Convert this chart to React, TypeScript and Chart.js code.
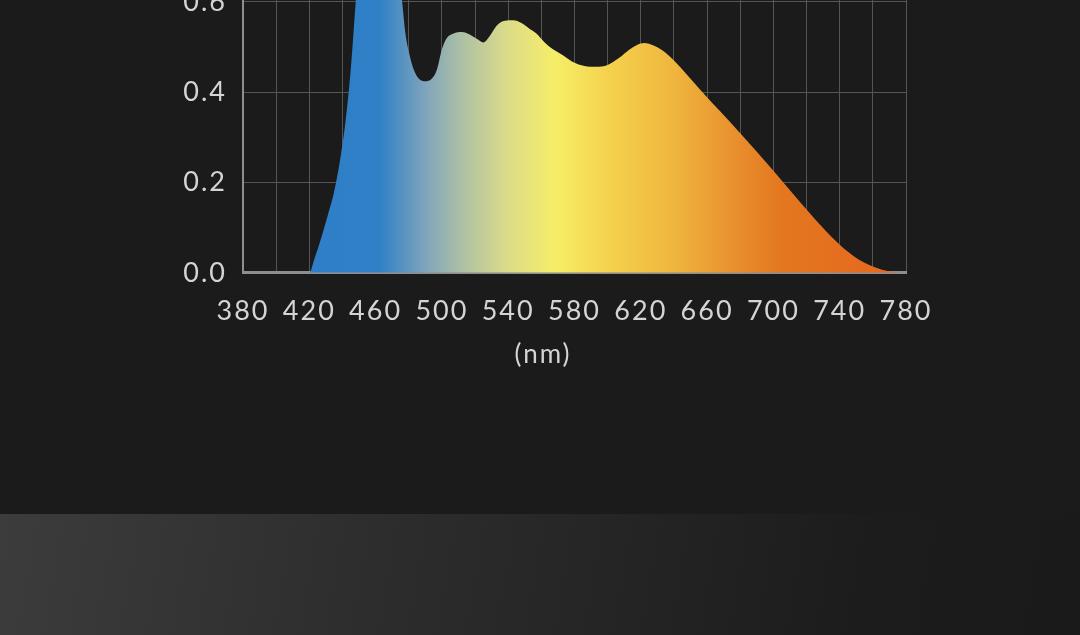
import React, { useEffect, useRef } from "react";
import { Chart, registerables } from "chart.js";

Chart.register(...registerables);

// spectrum samples (nm -> relative intensity)
const wavelengths = [
  380, 400, 420, 423, 427, 431, 435, 439, 442, 445, 448, 452, 456, 460, 464,
  468, 472, 476, 478, 480, 483, 486, 490, 494, 497, 500, 503, 507, 512, 517,
  521, 525, 529, 533, 538, 543, 548, 553, 557, 562, 567, 573, 579, 586, 593,
  600, 607, 613, 618, 622, 628, 632, 636, 640, 648, 656, 668, 680, 690, 700,
  710, 720, 730, 740, 750, 760, 770, 780,
];
const intensity = [
  0, 0, 0, 0.03, 0.075, 0.125, 0.18, 0.26, 0.34, 0.45, 0.6, 0.8, 0.95, 1.0,
  0.97, 0.87, 0.74, 0.6, 0.53, 0.49, 0.45, 0.43, 0.424, 0.43, 0.45, 0.495,
  0.52, 0.53, 0.533, 0.527, 0.518, 0.51, 0.525, 0.547, 0.558, 0.559, 0.553,
  0.54, 0.53, 0.51, 0.495, 0.482, 0.467, 0.458, 0.456, 0.46, 0.476, 0.494,
  0.505, 0.509, 0.503, 0.495, 0.484, 0.47, 0.438, 0.405, 0.357, 0.309, 0.268,
  0.226, 0.183, 0.14, 0.099, 0.062, 0.033, 0.014, 0.003, 0,
];

// colour stops of the fill, by wavelength
const stopNm = [420, 462, 490, 510, 540, 568, 600, 640, 680, 705, 780];
const stopColors = [
  "#2e7fc8",
  "#2f80c6",
  "#7fa4bc",
  "#a9bea6",
  "#dcdc88",
  "#f6ee68",
  "#f5d24e",
  "#efb63e",
  "#e88c2c",
  "#e3771f",
  "#e6661f",
];

const xMin = 380;
const xMax = 780;
const yMax = 1.0;

const FONT = "Lato";
const TEXT = "#d4d4d4";

const spacing = {
  id: "spacing",
  beforeDraw(chart: Chart) {
    (chart.ctx as any).letterSpacing = "2px";
  },
};

const SpectrumChart: React.FC = () => {
  const ref = useRef<HTMLCanvasElement | null>(null);

  useEffect(() => {
    if (!ref.current) return;
    const ctx = ref.current.getContext("2d");
    if (!ctx) return;

    const chart = new Chart(ctx, {
      type: "line",
      data: {
        datasets: [
          {
            data: wavelengths.map((x, i) => ({ x, y: intensity[i] })),
            fill: "origin",
            borderWidth: 0,
            pointRadius: 0,
            cubicInterpolationMode: "monotone",
            backgroundColor: (c: any) => {
              const ch = c.chart;
              if (!ch.chartArea) return "#2e7fc8";
              const xs = ch.scales.x;
              const x0 = xs.getPixelForValue(xMin);
              const x1 = xs.getPixelForValue(xMax);
              const g = ch.ctx.createLinearGradient(x0, 0, x1, 0);
              stopNm.forEach((nm, i) =>
                g.addColorStop((nm - xMin) / (xMax - xMin), stopColors[i])
              );
              return g;
            },
          },
        ],
      },
      options: {
        animation: false,
        responsive: true,
        maintainAspectRatio: false,
        layout: { padding: { left: 0, right: 0, top: 20, bottom: 0 } },
        plugins: {
          legend: { display: false },
          tooltip: { enabled: false },
          title: {
            display: true,
            position: "bottom",
            text: "(nm)",
            color: TEXT,
            font: { family: FONT, size: 26, weight: "normal" },
            padding: { top: 12, bottom: 0 },
          },
        },
        scales: {
          x: {
            type: "linear",
            min: xMin,
            max: xMax,
            afterFit: (s: any) => {
              s.height = 54;
              s.paddingRight = 30;
            },
            border: { color: "#8e8e8e", width: 3 },
            grid: { color: "#555555", lineWidth: 1, drawTicks: false },
            ticks: {
              stepSize: 20,
              autoSkip: false,
              maxRotation: 0,
              padding: 22,
              color: TEXT,
              font: { family: FONT, size: 27 },
              callback: (v: any) =>
                (Number(v) - xMin) % 40 === 0 ? String(v) : "",
            },
          },
          y: {
            min: 0,
            max: yMax,
            afterFit: (s: any) => {
              s.width = 93;
            },
            border: { color: "#8e8e8e", width: 2 },
            grid: { color: "#555555", lineWidth: 1, drawTicks: false },
            ticks: {
              stepSize: 0.2,
              padding: 16,
              color: TEXT,
              font: { family: FONT, size: 27 },
              callback: (v: any) => Number(v).toFixed(1),
            },
          },
        },
      },
      plugins: [spacing],
    });

    return () => {
      chart.destroy();
    };
  }, []);

  return <canvas ref={ref}></canvas>;
};

export default function App() {
  return (
    <div
      style={{
        position: "fixed",
        inset: 0,
        background: "#1b1b1b",
        overflow: "hidden",
      }}
    >
      <div
        style={{
          position: "absolute",
          left: 150,
          top: -211,
          width: 786,
          height: 581,
        }}
      >
        <SpectrumChart />
      </div>
      <div
        style={{
          position: "absolute",
          left: 0,
          top: 514,
          width: "100%",
          height: 121,
          background:
            "linear-gradient(100deg, #3c3c3c 0%, #2d2d2d 35%, #1c1c1c 80%, #1a1a1a 100%)",
        }}
      />
    </div>
  );
}
